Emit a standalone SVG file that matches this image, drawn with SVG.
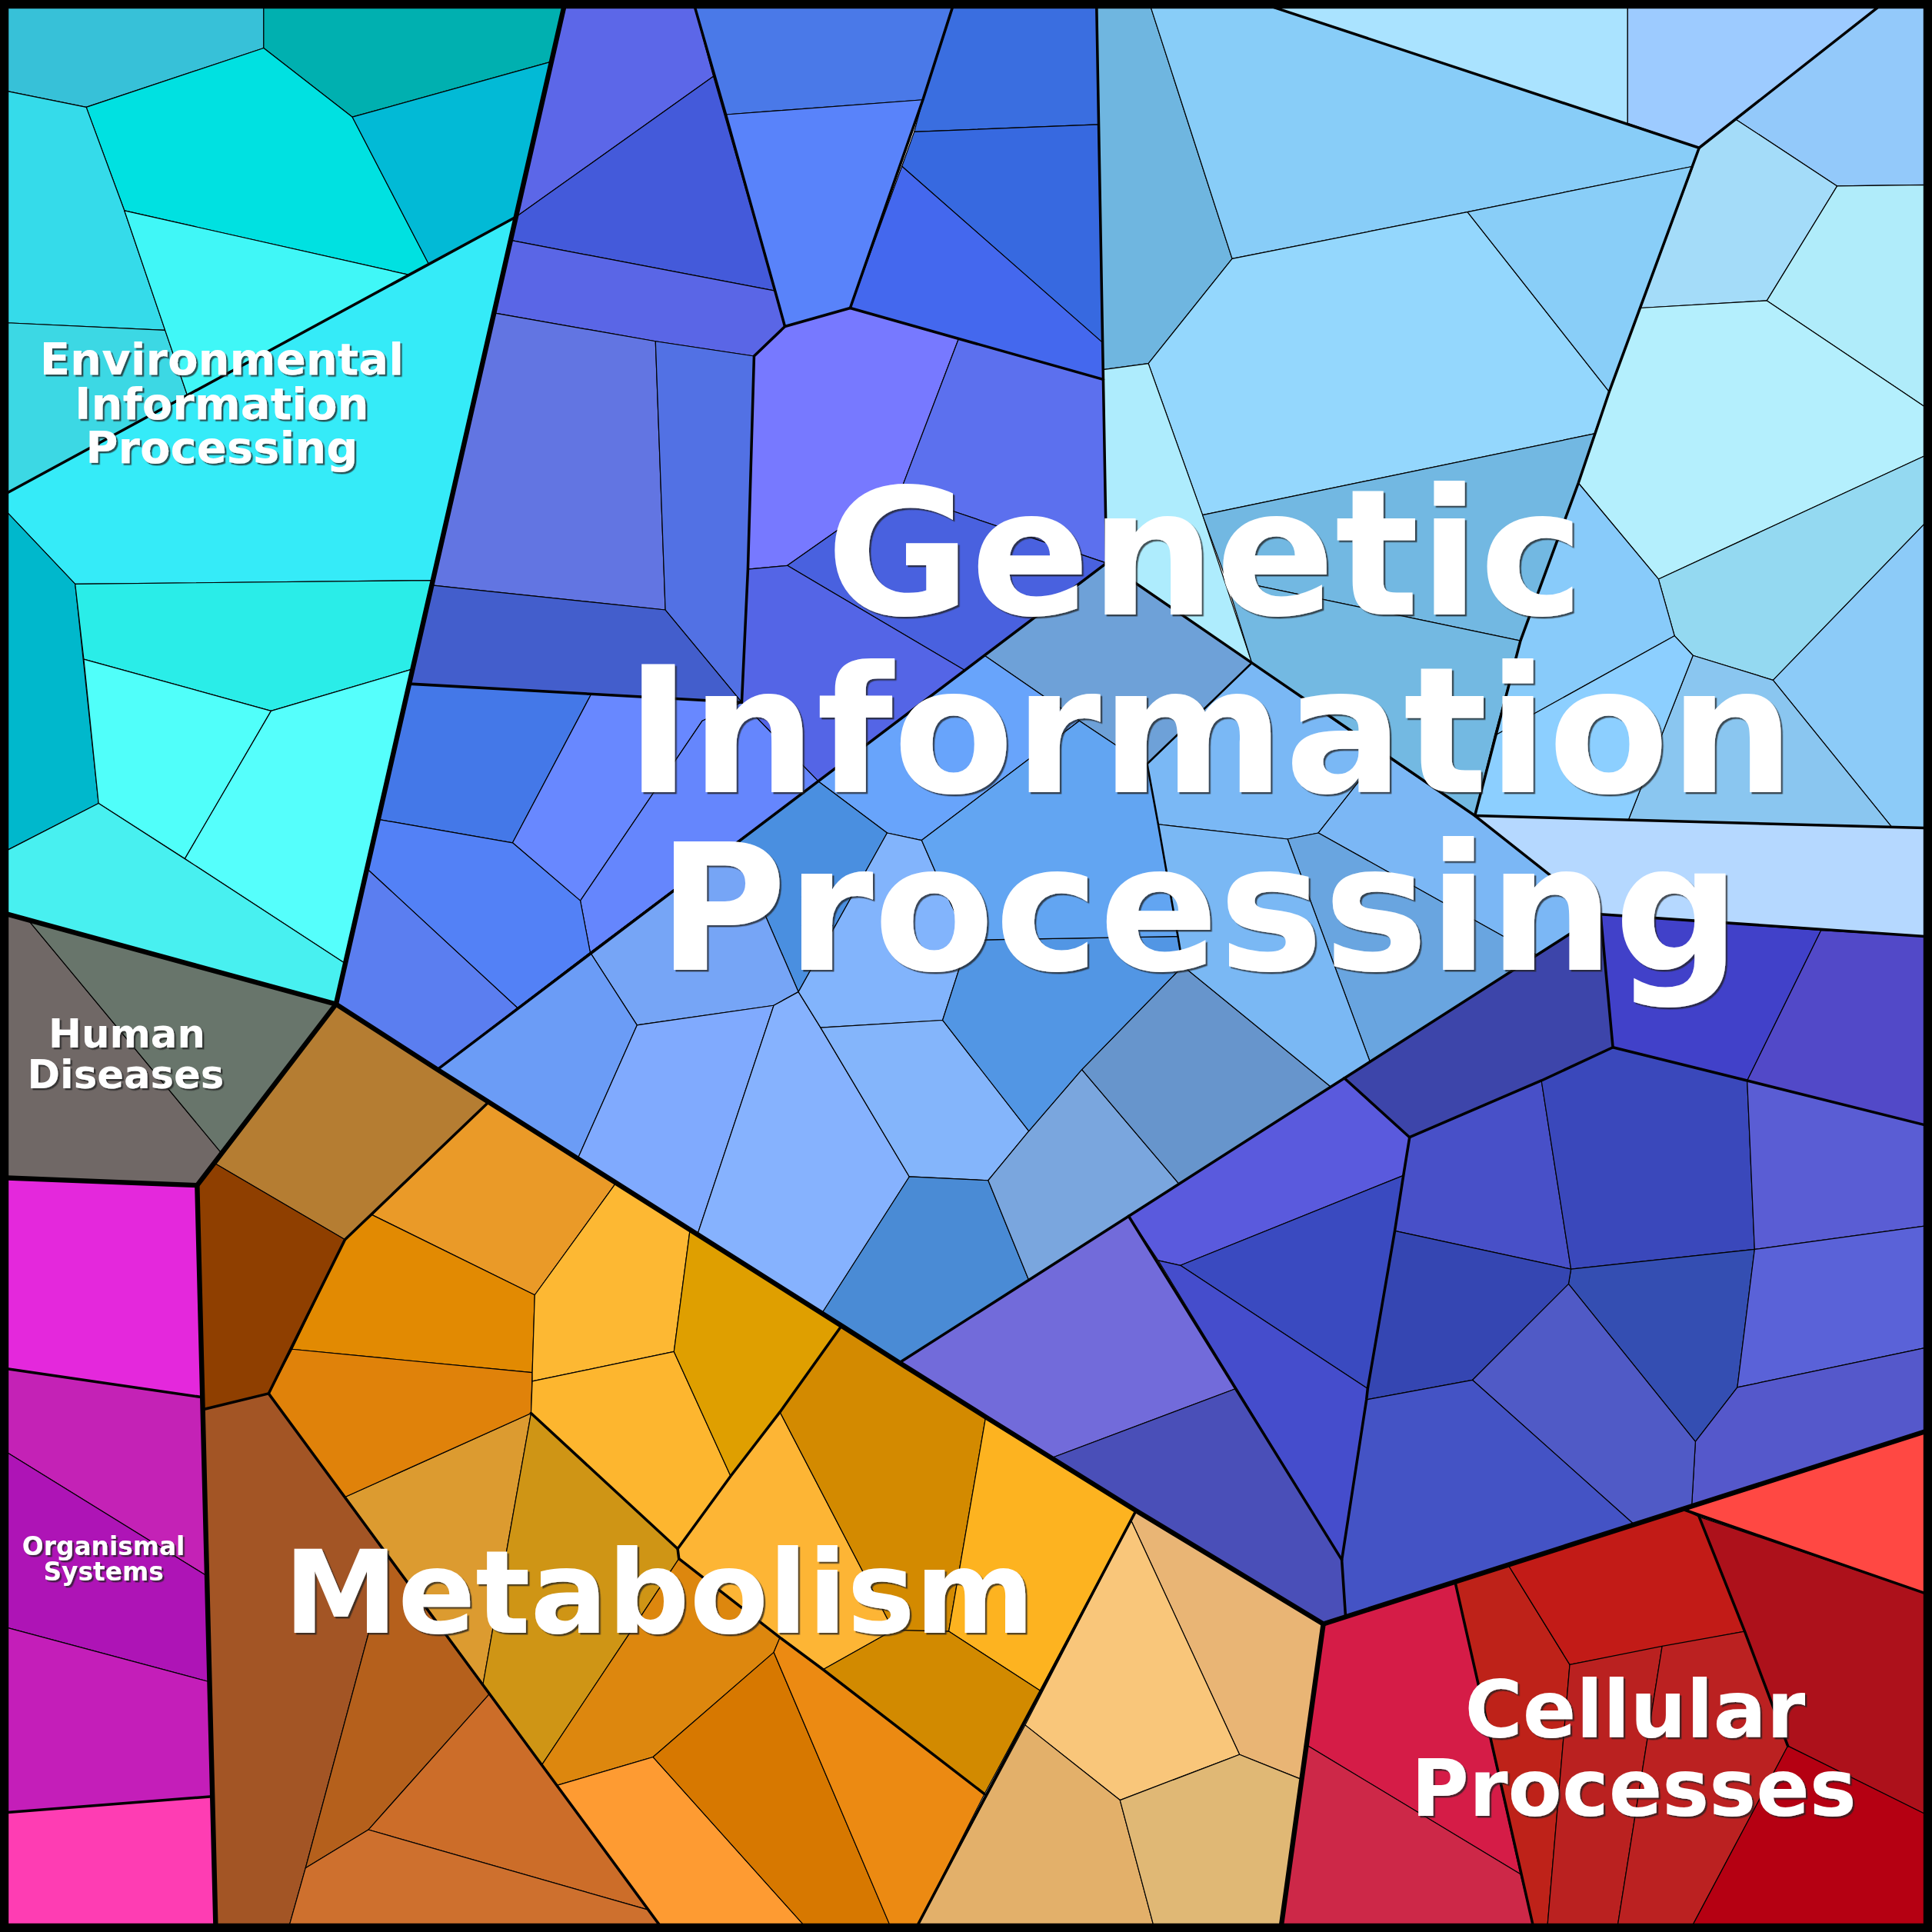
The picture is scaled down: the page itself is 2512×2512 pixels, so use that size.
<svg xmlns="http://www.w3.org/2000/svg" width="2512" height="2512" viewBox="0 0 2512 2512">
<style>
.c{stroke:#000;stroke-width:0.75;stroke-linejoin:round}
.m{fill:none;stroke:#000;stroke-width:2.2;stroke-linejoin:round;stroke-linecap:round}
.s{fill:none;stroke:#000;stroke-width:1.6;stroke-linejoin:round;stroke-linecap:round}
.t{fill:none;stroke:#000;stroke-width:4;stroke-linejoin:round;stroke-linecap:round}
.lbl{font-family:"DejaVu Sans","Liberation Sans",sans-serif;font-weight:bold;fill:#fff;text-anchor:middle;filter:url(#sh)}
</style>
<defs>
<filter id="sh" x="-5%" y="-5%" width="110%" height="115%">
<feDropShadow dx="1.5" dy="1.5" stdDeviation="0.4" flood-color="#222" flood-opacity="0.75"/>
</filter>
</defs>
<rect width="2512" height="2512" fill="#fff"/>
<g transform="scale(1.602041)">
<g id="environmental">
<polygon class="c" fill="#37c1d8" points="6,6 214,6 214,39 70,87 6,74"/>
<polygon class="c" fill="#00b0b0" points="214,6 457.6,6 447.6,50 286,95 214,39"/>
<polygon class="c" fill="#00e1e1" points="70,87 214,39 286,95 348,214.4 332,223.1 101,171"/>
<polygon class="c" fill="#02bad6" points="286,95 447.6,50 418.8,176 348,214.4"/>
<polygon class="c" fill="#35dbea" points="6,74 70,87 101,171 134,268 6,262"/>
<polygon class="c" fill="#3cd8e4" points="6,262 134,268 152,320.8 6,400"/>
<polygon class="c" fill="#40f7f7" points="101,171 332,223.1 152,320.8 134,268"/>
<polygon class="c" fill="#35ebf8" points="6,400 418.8,176 351.3,471 61,474 6,416"/>
<polygon class="c" fill="#00b8cc" points="6,416 61,474 80,652 6,690"/>
<polygon class="c" fill="#2aede8" points="61,474 351.3,471 334.9,543 220,577 68,535"/>
<polygon class="c" fill="#50fffa" points="68,535 220,577 150,697 80,652"/>
<polygon class="c" fill="#55fffc" points="220,577 334.9,543 280.2,782 150,697"/>
<polygon class="c" fill="#48f0f0" points="6,690 80,652 150,697 280.2,782 272.7,815 6,742"/>
</g>
<g id="human-diseases">
<polygon class="c" fill="#706866" points="6,742 24,748 179,935 160,962 6,956"/>
<polygon class="c" fill="#68756b" points="24,748 272.7,815 179,935"/>
</g>
<g id="organismal-systems">
<polygon class="c" fill="#e428dc" points="6,956 160,962 164.3,1134 6,1111"/>
<polygon class="c" fill="#c422b6" points="6,1111 164.3,1134 167.9,1279 6,1179"/>
<polygon class="c" fill="#ae14b6" points="6,1179 167.9,1279 170,1365 6,1321"/>
<polygon class="c" fill="#c41eb9" points="6,1321 170,1365 172.4,1458 6,1471"/>
<polygon class="c" fill="#fe3db3" points="6,1471 172.4,1458 175,1562 6,1562"/>
</g>
<g id="metabolism">
<polygon class="c" fill="#b57d32" points="272.7,815 397,894 280,1006 174,944"/>
<polygon class="c" fill="#8f3f00" points="174,944 280,1006 218,1131 164.5,1144 160,962"/>
<polygon class="c" fill="#a35525" points="164.5,1144 218,1131 315,1264 299,1326 248,1516 235,1562 175,1562"/>
<polygon class="c" fill="#b5601c" points="315,1264 397,1375 299,1485 248,1516 299,1326"/>
<polygon class="c" fill="#cc6d29" points="299,1485 397,1375 526,1550"/>
<polygon class="c" fill="#ce702e" points="248,1516 299,1485 526,1550 535,1562 235,1562"/>
<polygon class="c" fill="#dc9b30" points="280,1215 431,1147 412,1254 392,1367"/>
<polygon class="c" fill="#ea9a28" points="302,986 397,894 500,960 434,1051"/>
<polygon class="c" fill="#e28a02" points="280,1006 302,986 434,1051 432,1114 237,1095"/>
<polygon class="c" fill="#e0820a" points="237,1095 432,1114 431,1147 280,1215 218,1131"/>
<polygon class="c" fill="#fdb833" points="434,1051 500,960 560,998 547,1097 432,1121 432,1114"/>
<polygon class="c" fill="#fdb62f" points="432,1121 547,1097 593,1198 550,1257 431,1147"/>
<polygon class="c" fill="#df9f00" points="560,998 683,1076 633,1146 593,1198 547,1097"/>
<polygon class="c" fill="#cf9515" points="431,1147 550,1257 551,1265 512,1324 440,1432 392,1367 412,1254"/>
<polygon class="c" fill="#fdb535" points="550,1257 593,1198 633,1146 725,1323 668,1355 633,1329 551,1265"/>
<polygon class="c" fill="#d38a00" points="633,1146 683,1076 800,1150 770,1324 725,1323"/>
<polygon class="c" fill="#fdb320" points="800,1150 922,1226 844,1372 770,1324"/>
<polygon class="c" fill="#d28a00" points="668,1355 725,1323 770,1324 844,1372 799,1456"/>
<polygon class="c" fill="#dd870e" points="512,1324 551,1265 633,1329 628,1341 530,1426 452,1449 440,1432"/>
<polygon class="c" fill="#fe9b32" points="452,1449 530,1426 652,1562 535,1562"/>
<polygon class="c" fill="#d77800" points="530,1426 628,1341 722,1562 652,1562"/>
<polygon class="c" fill="#ec8a12" points="628,1341 633,1329 668,1355 799,1456 745,1562 722,1562"/>
<polygon class="c" fill="#e9b575" points="922,1226 1074,1318 1056,1444 1006,1424 918,1234"/>
<polygon class="c" fill="#f9c67a" points="918,1234 1006,1424 909,1461 832,1400"/>
<polygon class="c" fill="#e3b06a" points="832,1400 909,1461 936,1562 745,1562"/>
<polygon class="c" fill="#e0b875" points="909,1461 1006,1424 1056,1444 1040,1562 936,1562"/>
</g>
<g id="cellular-processes">
<polygon class="c" fill="#d51c47" points="1074,1318 1181,1284 1234,1521 1060,1416"/>
<polygon class="c" fill="#cd2848" points="1060,1416 1234,1521 1244,1562 1040,1562"/>
<polygon class="c" fill="#be2219" points="1181,1284 1224,1270 1274,1351 1256,1562 1244,1562"/>
<polygon class="c" fill="#c21b17" points="1224,1270 1366,1225 1379,1231 1416,1324 1274,1351"/>
<polygon class="c" fill="#ba2120" points="1274,1351 1349,1336 1313,1562 1256,1562"/>
<polygon class="c" fill="#bb2121" points="1349,1336 1416,1324 1451,1417 1374,1562 1313,1562"/>
<polygon class="c" fill="#ad111b" points="1379,1231 1562,1293 1562,1472 1451,1417 1416,1324"/>
<polygon class="c" fill="#b50012" points="1451,1417 1562,1472 1562,1562 1374,1562"/>
<polygon class="c" fill="#ff4843" points="1366,1225 1562,1162 1562,1293"/>
</g>
<g id="genetic-information-processing">
<polygon class="c" fill="#5c67e8" points="457.6,6 564,6 579,62 418.8,176"/>
<polygon class="c" fill="#445ada" points="418.8,176 579,62 629,236 414.4,195"/>
<polygon class="c" fill="#5a66e6" points="414.4,195 629,236 637,265 612,289 532,277 400.9,254"/>
<polygon class="c" fill="#4a79e8" points="564,6 773,6 749,81 589,93"/>
<polygon class="c" fill="#5983fa" points="589,93 749,81 690,250 637,265"/>
<polygon class="c" fill="#3a6ee0" points="773,6 890,6 891.7,101 742,107 749,81"/>
<polygon class="c" fill="#3769e0" points="742,107 891.7,101 894.8,278 732,135"/>
<polygon class="c" fill="#4468ee" points="732,135 894.8,278 895.4,308 690,250"/>
<polygon class="c" fill="#7779ff" points="612,289 637,265 690,250 778,275 733,393 639,459 607,462"/>
<polygon class="c" fill="#5c70ee" points="778,275 895.4,308 898,457 771,414 733,393"/>
<polygon class="c" fill="#4961df" points="639,459 733,393 771,414 898,457 783,544"/>
<polygon class="c" fill="#5465e6" points="607,462 639,459 783,544 664,634 602,570"/>
<polygon class="c" fill="#6275e2" points="400.9,254 532,277 540,495 350.4,475"/>
<polygon class="c" fill="#5271e4" points="532,277 612,289 607,462 602,570 540,495"/>
<polygon class="c" fill="#435ecc" points="350.4,475 540,495 602,570 332.1,555"/>
<polygon class="c" fill="#4478e8" points="332.1,555 480,563 416,684 307,665"/>
<polygon class="c" fill="#6888ff" points="480,563 602,570 570,585 471,731 416,684"/>
<polygon class="c" fill="#6586fd" points="570,585 602,570 664,634 479,773 471,731"/>
<polygon class="c" fill="#5381f6" points="307,665 416,684 471,731 479,773 420,818 297.8,705"/>
<polygon class="c" fill="#5b7ef0" points="297.8,705 420,818 355,868 272.7,815"/>
<polygon class="c" fill="#6fb6e0" points="890,6 934,6 1000,210 932,295 895.2,300"/>
<polygon class="c" fill="#88cdf8" points="934,6 1034,6 1379,120 1374,135 1191,172 1000,210"/>
<polygon class="c" fill="#aae3ff" points="1034,6 1321,6 1321,100 1379,120"/>
<polygon class="c" fill="#9dcbff" points="1321,6 1524,6 1409,97 1379,120 1321,100"/>
<polygon class="c" fill="#93c9fa" points="1524,6 1562,6 1562,150 1491,151 1409,97"/>
<polygon class="c" fill="#a4dcf9" points="1379,120 1409,97 1491,151 1434,244 1331,250"/>
<polygon class="c" fill="#b0ecfa" points="1491,151 1562,150 1562,330 1434,244"/>
<polygon class="c" fill="#b4effd" points="1331,250 1434,244 1562,330 1562,370 1346,470 1281,392 1306,318"/>
<polygon class="c" fill="#94d9f1" points="1346,470 1562,370 1562,425 1439,552 1374,532 1359,516"/>
<polygon class="c" fill="#8ccbf8" points="1439,552 1562,425 1562,672 1536,672"/>
<polygon class="c" fill="#8ac6f0" points="1374,532 1439,552 1536,672 1321,667"/>
<polygon class="c" fill="#88cbfa" points="1281,392 1346,470 1359,516 1213,597 1234,520"/>
<polygon class="c" fill="#8ccfff" points="1213,597 1359,516 1374,532 1321,667 1197,662"/>
<polygon class="c" fill="#94d7fd" points="932,295 1000,210 1191,172 1306,318 1294,352 976,418"/>
<polygon class="c" fill="#89cef8" points="1191,172 1374,135 1306,318"/>
<polygon class="c" fill="#aeecfd" points="895.2,300 932,295 976,418 1016,538 898,457"/>
<polygon class="c" fill="#72b8e2" points="976,418 1294,352 1281,392 1234,520 995,470"/>
<polygon class="c" fill="#73b9e2" points="995,470 1234,520 1213,597 1197,662 1016,538"/>
<polygon class="c" fill="#b5d8ff" points="1197,662 1562,672 1562,760 1299,742 1259,711"/>
<polygon class="c" fill="#6ea1d8" points="799,532 898,457 1016,538 931,620 906,605 876,585"/>
<polygon class="c" fill="#68a4fb" points="664,634 799,532 876,585 748,682 720,676"/>
<polygon class="c" fill="#4a8fe0" points="596,685 664,634 720,676 648,805"/>
<polygon class="c" fill="#76a5f6" points="479,773 596,685 648,805 628,816 517,832"/>
<polygon class="c" fill="#6b9cf6" points="355,868 479,773 517,832 469,940"/>
<polygon class="c" fill="#80aafe" points="517,832 628,816 566,1002 469,940"/>
<polygon class="c" fill="#86b2fe" points="628,816 648,805 666,834 738,955 667,1066 566,1002"/>
<polygon class="c" fill="#82b4fc" points="720,676 748,682 759,707 786,763 765,828 666,834 648,805"/>
<polygon class="c" fill="#84b5fb" points="666,834 765,828 835,918 802,958 738,955"/>
<polygon class="c" fill="#4a8bd5" points="738,955 802,958 835,1039 730,1106 667,1066"/>
<polygon class="c" fill="#7aa6de" points="802,958 835,918 878,868 957,961 835,1039"/>
<polygon class="c" fill="#6795cc" points="878,868 960,784 1080,882 957,961"/>
<polygon class="c" fill="#5296e4" points="765,828 786,763 956,760 960,784 878,868 835,918"/>
<polygon class="c" fill="#62a5f2" points="748,682 876,585 906,605 931,620 940,669 956,760 786,763 759,707"/>
<polygon class="c" fill="#7ab8f5" points="931,620 1016,538 1121,611 1070,676 1045,681 940,669"/>
<polygon class="c" fill="#7bb7f5" points="1121,611 1197,662 1259,711 1299,742 1247,775 1070,676"/>
<polygon class="c" fill="#69a5e0" points="1045,681 1070,676 1247,775 1112,862"/>
<polygon class="c" fill="#7ab8f4" points="940,669 1045,681 1112,862 1080,882 960,784"/>
<polygon class="c" fill="#726bda" points="730,1106 916,987 1003,1127 854,1183"/>
<polygon class="c" fill="#4a4fb8" points="854,1183 1003,1127 1089,1266 1092,1311 1074,1318"/>
<polygon class="c" fill="#5a5add" points="916,987 1091,875 1144,923 1139,954 958,1027 940,1023"/>
<polygon class="c" fill="#3a4ac0" points="958,1027 1139,954 1132,999 1110,1127"/>
<polygon class="c" fill="#454dcc" points="940,1023 958,1027 1110,1127 1109,1136 1089,1266"/>
<polygon class="c" fill="#3d45aa" points="1091,875 1299,742 1309,850 1251,877 1144,923"/>
<polygon class="c" fill="#4850c8" points="1144,923 1251,877 1275,1030 1132,999 1139,954"/>
<polygon class="c" fill="#3a48bb" points="1251,877 1309,850 1418,877 1424,1014 1275,1030"/>
<polygon class="c" fill="#4141c9" points="1299,742 1478,755 1418,877 1309,850"/>
<polygon class="c" fill="#5249c8" points="1478,755 1562,760 1562,913 1418,877"/>
<polygon class="c" fill="#5a5dd4" points="1418,877 1562,913 1562,995 1424,1014"/>
<polygon class="c" fill="#344eb2" points="1275,1030 1424,1014 1410,1126 1376,1170 1273,1042"/>
<polygon class="c" fill="#5a62d8" points="1424,1014 1562,995 1562,1094 1410,1126"/>
<polygon class="c" fill="#5558cb" points="1410,1126 1562,1094 1562,1162 1373,1222 1376,1170"/>
<polygon class="c" fill="#505ac6" points="1273,1042 1376,1170 1373,1222 1326,1237 1195,1120"/>
<polygon class="c" fill="#3546b2" points="1132,999 1275,1030 1273,1042 1195,1120 1109,1136 1110,1127"/>
<polygon class="c" fill="#4453c5" points="1109,1136 1195,1120 1326,1237 1092,1311 1089,1266"/>
</g>
<g id="boundaries">
<polyline class="m" points="418.8,176 6,400"/>
<polyline class="m" points="6,1111 164.3,1134"/>
<polyline class="m" points="6,1471 172.4,1458"/>
<polyline class="m" points="397,894 280,1006 218,1131 164.5,1144"/>
<polyline class="m" points="218,1131 535,1562"/>
<polyline class="m" points="431,1147 550,1257 551,1265 633,1329 668,1355 799,1456"/>
<polyline class="m" points="550,1257 593,1198 633,1146 683,1076"/>
<polyline class="m" points="922,1226 745,1562"/>
<polyline class="m" points="1181,1284 1244,1562"/>
<polyline class="m" points="1366,1225 1562,1293"/>
<polyline class="m" points="1379,1231 1416,1324 1451,1417"/>
<polyline class="m" points="890,6 895.4,308 898,457"/>
<polyline class="m" points="355,868 898,457 1016,538 1197,662 1259,711 1299,742"/>
<polyline class="m" points="730,1106 1299,742 1562,760"/>
<polyline class="m" points="1197,662 1562,672"/>
<polyline class="m" points="1034,6 1379,120 1524,6"/>
<polyline class="m" points="1379,120 1306,318 1281,392 1234,520 1197,662"/>
<polyline class="m" points="1091,875 1144,923 1251,877 1309,850 1299,742"/>
<polyline class="m" points="1309,850 1418,877 1562,913"/>
<polyline class="m" points="1144,923 1139,954 1132,999 1110,1127 1109,1136 1089,1266 1092,1311"/>
<polyline class="m" points="916,987 1089,1266"/>
<polyline class="m" points="564,6 589,93 629,236 637,265 612,289 607,462 602,570"/>
<polyline class="m" points="637,265 690,250 749,81 773,6"/>
<polyline class="m" points="690,250 895.4,308"/>
<polyline class="m" points="332.1,555 602,570"/>
<polyline class="s" points="1016,538 931,620 940,669 956,760 960,784"/>
<polyline class="t" points="457.6,6 272.7,815"/>
<polyline class="t" points="6,742 272.7,815 160,962 175,1562"/>
<polyline class="t" points="6,956 160,962"/>
<polyline class="t" points="272.7,815 355,868 500,960 683,1076 730,1106 800,1150 922,1226 1074,1318 1040,1562"/>
<polyline class="t" points="1074,1318 1562,1162"/>
<rect x="3.5" y="3.5" width="1561" height="1561" fill="none" stroke="#000" stroke-width="7"/>
</g>
<g id="labels">
<text class="lbl" font-size="36"><tspan x="180" y="304">Environmental</tspan><tspan x="180" y="340">Information</tspan><tspan x="180" y="376">Processing</tspan></text>
<text class="lbl" font-size="32"><tspan x="103" y="850">Human</tspan><tspan x="102" y="883">Diseases</tspan></text>
<text class="lbl" font-size="20.5"><tspan x="84" y="1262">Organismal</tspan><tspan x="84" y="1283">Systems</tspan></text>
<text class="lbl" font-size="143"><tspan x="978" y="499">Genetic</tspan><tspan x="982" y="643">Information</tspan><tspan x="973" y="787">Processing</tspan></text>
<text class="lbl" font-size="93" x="535" y="1325">Metabolism</text>
<text class="lbl" font-size="64"><tspan x="1327" y="1410">Cellular</tspan><tspan x="1326" y="1474">Processes</tspan></text>
</g>
</g>
</svg>
